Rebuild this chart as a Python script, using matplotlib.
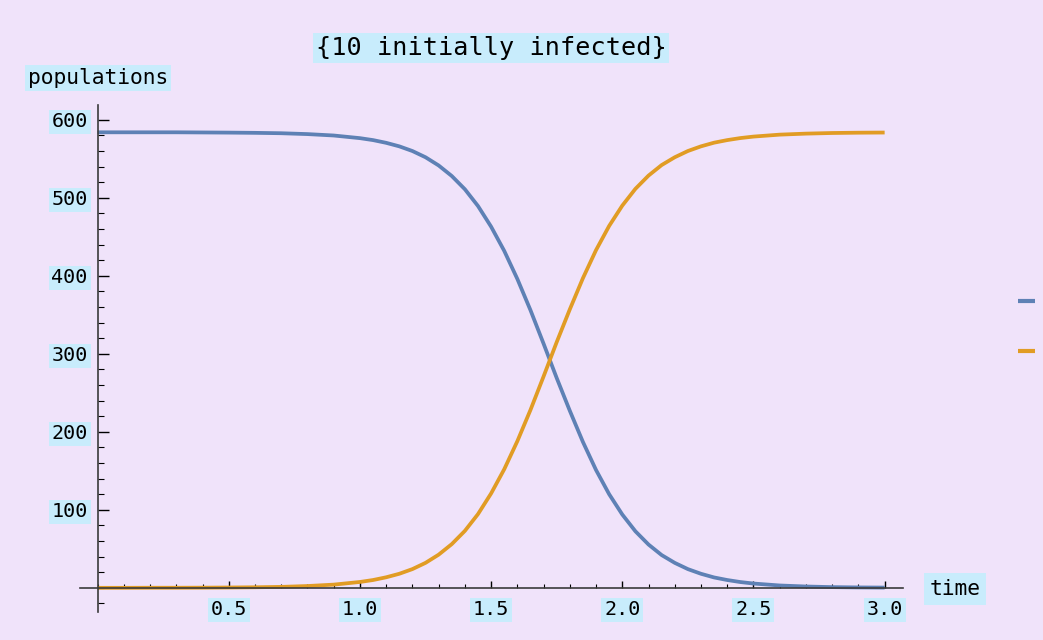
import matplotlib.pyplot as plt
from matplotlib.ticker import FixedLocator, MultipleLocator
from matplotlib.lines import Line2D

# data
time = [0.0, 0.1, 0.2, 0.3, 0.4, 0.5, 0.6, 0.7, 0.8, 0.9,
        1.0, 1.05, 1.1, 1.15, 1.2, 1.25, 1.3, 1.35, 1.4, 1.45,
        1.5, 1.55, 1.6, 1.65, 1.7, 1.75, 1.8, 1.85, 1.9, 1.95,
        2.0, 2.05, 2.1, 2.15, 2.2, 2.25, 2.3, 2.35, 2.4, 2.45,
        2.5, 2.6, 2.7, 2.8, 2.9, 3.0]
susceptible = [584, 584, 584, 584, 583.8, 583.6, 583.3, 582.8, 581.7, 579.9,
               576.5, 574, 570.5, 566, 560, 552, 541.5, 528, 511, 489.5,
               463, 432, 396, 356, 313, 269, 227, 187, 151, 120,
               94, 72.5, 55.5, 42, 32, 24, 18, 13.3, 10, 7.4,
               5.5, 3, 1.7, 0.9, 0.5, 0.3]
infected = [0, 0, 0.1, 0.1, 0.2, 0.4, 0.7, 1.2, 2.3, 4.1,
            7.5, 10, 13.5, 18, 24, 32, 42.5, 56, 73, 94.5,
            121, 152, 188, 228, 271, 315, 357, 397, 433, 464,
            490, 511.5, 528.5, 542, 552, 560, 566, 570.7, 574, 576.6,
            578.5, 581, 582.3, 583.1, 583.5, 583.7]
x_major = [0.5, 1.0, 1.5, 2.0, 2.5, 3.0]
y_major = [100, 200, 300, 400, 500, 600]

bg = "#f0e3fa"
label_bg = "#c8ecfc"
blue = "#5e81b5"
orange = "#e19c24"
font = "DejaVu Sans Mono"

plt.rcParams["font.family"] = font

fig = plt.figure(figsize=(10.43, 6.40), dpi=100, facecolor=bg)
ax = fig.add_axes([80 / 1043, 1 - 612 / 640, (903 - 80) / 1043, (612 - 105) / 640])
ax.set_facecolor(bg)

ax.plot(time, susceptible, color=blue, lw=2.7, solid_capstyle="butt")
ax.plot(time, infected, color=orange, lw=2.7, solid_capstyle="butt")

ax.set_xlim(-0.067, 3.07)
ax.set_ylim(-31, 619)

for side in ["top", "right"]:
    ax.spines[side].set_visible(False)
for side in ["left", "bottom"]:
    ax.spines[side].set_position(("data", 0))
    ax.spines[side].set_color("#3a3a3a")
    ax.spines[side].set_linewidth(1.2)
    ax.spines[side].set_zorder(5)

ax.xaxis.set_major_locator(FixedLocator(x_major))
ax.xaxis.set_minor_locator(MultipleLocator(0.1))
ax.yaxis.set_major_locator(FixedLocator(y_major))
ax.yaxis.set_minor_locator(MultipleLocator(20))
ax.set_xticklabels([f"{v:.1f}" for v in x_major])
ax.set_yticklabels([str(v) for v in y_major])

ax.tick_params(axis="x", which="major", direction="in", length=5, width=1, pad=9, labelsize=14.5)
ax.tick_params(axis="x", which="minor", direction="in", length=3, width=0.8)
ax.tick_params(axis="y", which="major", direction="in", length=8, width=1, pad=7, labelsize=14.5)
ax.tick_params(axis="y", which="minor", direction="in", length=4, width=0.8)

for lab in ax.get_xticklabels() + ax.get_yticklabels():
    lab.set_bbox(dict(facecolor=label_bg, edgecolor="none", pad=2))

box = dict(facecolor=label_bg, edgecolor="none", pad=2)
fig.text(491 / 1043, 1 - 48 / 640, "{10 initially infected}", fontsize=18.2,
         ha="center", va="center", bbox=box)
fig.text(98 / 1043, 1 - 78 / 640, "populations", fontsize=15.3,
         ha="center", va="center", bbox=box)
fig.text(955 / 1043, 1 - 589 / 640, "time", fontsize=15.3,
         ha="center", va="center", bbox=dict(facecolor=label_bg, edgecolor="none", pad=4))

# legend swatches without labels
for yy, c in [(301, blue), (351, orange)]:
    fig.add_artist(Line2D([1018 / 1043, 1035 / 1043], [1 - yy / 640, 1 - yy / 640],
                          color=c, lw=3, solid_capstyle="butt"))

fig.savefig("out.png", dpi=100, facecolor=bg)
